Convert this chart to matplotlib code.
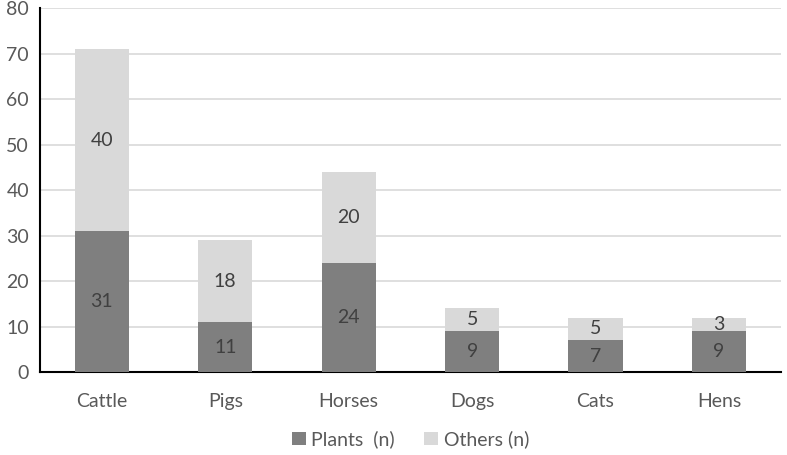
import numpy as np
import matplotlib.pyplot as plt

# data
categories = ['Cattle', 'Pigs', 'Horses', 'Dogs', 'Cats', 'Hens']
plants = [31, 11, 24, 9, 7, 9]
others = [40, 18, 20, 5, 5, 3]

dark = '#7f7f7f'
light = '#d9d9d9'
txt = '#595959'

plt.rcParams['font.family'] = ['Lato', 'DejaVu Sans']

fig = plt.figure(figsize=(7.87, 4.55), dpi=100)
ax = fig.add_axes([0.051, 0.182, 0.941, 0.8])

x = np.arange(len(categories))
w = 0.44
ax.bar(x, plants, w, color=dark, label='Plants  (n)', zorder=3)
ax.bar(x, others, w, bottom=plants, color=light, label='Others (n)', zorder=3)

for i in range(len(categories)):
    ax.text(x[i], plants[i] / 2, str(plants[i]), ha='center', va='center',
            fontsize=14, color='#404040', zorder=4)
    ax.text(x[i], plants[i] + others[i] / 2, str(others[i]), ha='center', va='center',
            fontsize=14, color='#404040', zorder=4)

ax.set_xlim(-0.5, len(categories) - 0.5)
ax.set_ylim(0, 80)
ax.set_yticks(range(0, 81, 10))
ax.set_xticks(x)
ax.set_xticklabels(categories)
ax.tick_params(axis='both', length=0, labelsize=14, colors=txt)
ax.tick_params(axis='x', pad=15)
ax.tick_params(axis='y', pad=8)
ax.yaxis.grid(True, color=light, linewidth=1.2, zorder=0)
for s in ['top', 'right']:
    ax.spines[s].set_visible(False)
ax.spines['left'].set_linewidth(1.5)
ax.spines['bottom'].set_linewidth(1.5)
ax.spines['left'].set_color('black')
ax.spines['bottom'].set_color('black')

leg = ax.legend(loc='center', bbox_to_anchor=(0.5, -0.185), ncol=2, frameon=False,
                fontsize=14, handlelength=0.7, handleheight=0.7, columnspacing=1.5,
                handletextpad=0.3)
for t in leg.get_texts():
    t.set_color(txt)

fig.savefig('out.png', dpi=100)
